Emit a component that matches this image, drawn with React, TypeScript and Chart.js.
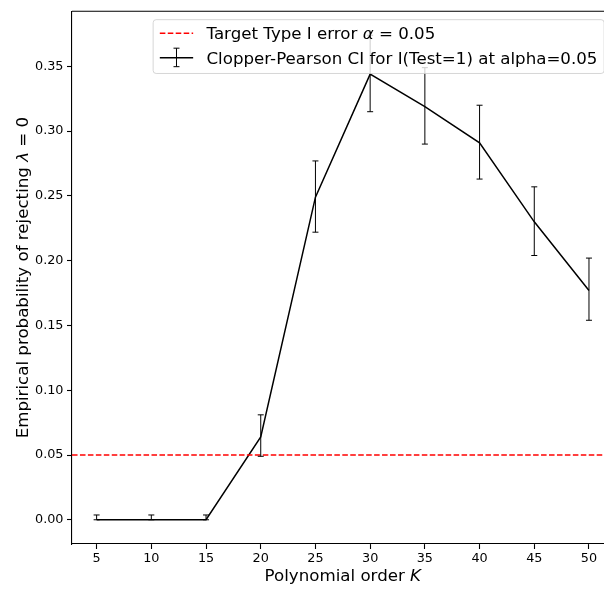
import React, { useEffect, useRef } from 'react';
import { Chart, registerables } from 'chart.js';

Chart.register(...registerables);

const K = [5, 10, 15, 20, 25, 30, 35, 40, 45, 50];
const rejectRate = [0, 0, 0, 0.064, 0.249, 0.344, 0.319, 0.291, 0.23, 0.177];
const ciLower = [0, 0, 0, 0.049, 0.222, 0.315, 0.29, 0.263, 0.204, 0.154];
const ciUpper = [0.0037, 0.0037, 0.0037, 0.081, 0.277, 0.374, 0.349, 0.32, 0.257, 0.202];
const targetAlpha = 0.05;

const xTicks = [5, 10, 15, 20, 25, 30, 35, 40, 45, 50];
const yTicks = [0, 0.05, 0.1, 0.15, 0.2, 0.25, 0.3, 0.35];
const xRange = [2.75, 52.25];
const yRange = [-0.0187, 0.3926];

const targetLabel = 'Target Type I error α = 0.05';
const ciLabel = 'Clopper-Pearson CI for I(Test=1) at alpha=0.05';
const xTitle = 'Polynomial order K';
const yTitle = 'Empirical probability of rejecting λ = 0';

const FAMILY = '"DejaVu Sans", "Liberation Sans", sans-serif';
const TICK_FS = 12.8;
const LABEL_FS = 16.67;

type Seg = { t: string; italic: boolean };

function segments(text: string, italicLast = false): Seg[] {
  const out: Seg[] = [];
  const chars = Array.from(text);
  chars.forEach((c, i) => {
    const italic = c === 'α' || c === 'λ' || (italicLast && i === chars.length - 1);
    const last = out[out.length - 1];
    if (last && last.italic === italic) last.t += c;
    else out.push({ t: c, italic });
  });
  return out;
}

function fontFor(italic: boolean, fs: number) {
  return `${italic ? 'italic ' : ''}${fs}px ${FAMILY}`;
}

function measureSegs(ctx: CanvasRenderingContext2D, segs: Seg[], fs: number) {
  let w = 0;
  for (const s of segs) {
    ctx.font = fontFor(s.italic, fs);
    w += ctx.measureText(s.t).width;
  }
  return w;
}

function drawSegs(ctx: CanvasRenderingContext2D, segs: Seg[], x: number, y: number, fs: number) {
  let cx = x;
  ctx.textAlign = 'left';
  ctx.textBaseline = 'alphabetic';
  for (const s of segs) {
    ctx.font = fontFor(s.italic, fs);
    ctx.fillText(s.t, cx, y);
    cx += ctx.measureText(s.t).width;
  }
}

const framePlugin = {
  id: 'mplFrame',
  afterDraw(chart: any) {
    const { ctx, chartArea } = chart;
    ctx.save();
    ctx.strokeStyle = '#000';
    ctx.lineWidth = 1.1;
    ctx.beginPath();
    ctx.moveTo(chartArea.left, chartArea.top);
    ctx.lineTo(chartArea.right, chartArea.top);
    ctx.lineTo(chartArea.right, chartArea.bottom);
    ctx.stroke();
    ctx.restore();
  },
};

const errorBarPlugin = {
  id: 'errorBars',
  afterDatasetsDraw(chart: any) {
    const { ctx, scales } = chart;
    const xs = scales.x;
    const ys = scales.y;
    ctx.save();
    ctx.strokeStyle = '#000';
    ctx.lineWidth = 1;
    const cap = 3;
    K.forEach((k, i) => {
      const x = xs.getPixelForValue(k);
      const yl = ys.getPixelForValue(ciLower[i]);
      const yu = ys.getPixelForValue(ciUpper[i]);
      ctx.beginPath();
      ctx.moveTo(x, yl);
      ctx.lineTo(x, yu);
      ctx.moveTo(x - cap, yl);
      ctx.lineTo(x + cap, yl);
      ctx.moveTo(x - cap, yu);
      ctx.lineTo(x + cap, yu);
      ctx.stroke();
    });
    ctx.restore();
  },
};

const titlePlugin = {
  id: 'axisTitles',
  afterDraw(chart: any) {
    const { ctx, chartArea } = chart;
    ctx.save();
    ctx.fillStyle = '#000';
    const xs = segments(xTitle, true);
    const xw = measureSegs(ctx, xs, LABEL_FS);
    const cx = (chartArea.left + chartArea.right) / 2;
    drawSegs(ctx, xs, cx - xw / 2, 581, LABEL_FS);
    const ysg = segments(yTitle);
    const yw = measureSegs(ctx, ysg, LABEL_FS);
    const cy = (chartArea.top + chartArea.bottom) / 2;
    ctx.translate(28, cy);
    ctx.rotate(-Math.PI / 2);
    drawSegs(ctx, ysg, -yw / 2, 0, LABEL_FS);
    ctx.restore();
  },
};

const legendPlugin = {
  id: 'mplLegend',
  afterDraw(chart: any) {
    const { ctx, chartArea } = chart;
    const ds = chart.data.datasets;
    const fs = LABEL_FS;
    const s1 = segments(ds[0].label);
    const s2 = segments(ds[1].label);
    ctx.save();
    const tw = Math.max(measureSegs(ctx, s1, fs), measureSegs(ctx, s2, fs));
    const pad = 0.4 * fs;
    const hl = 2 * fs;
    const hp = 0.8 * fs;
    const boxW = 2 * pad + hl + hp + tw;
    const boxRight = chartArea.right - 9.5;
    const boxLeft = boxRight - boxW;
    const boxTop = chartArea.top + 8.5;
    const boxH = 53.8;
    const r = 3;
    ctx.beginPath();
    ctx.moveTo(boxLeft + r, boxTop);
    ctx.lineTo(boxRight - r, boxTop);
    ctx.quadraticCurveTo(boxRight, boxTop, boxRight, boxTop + r);
    ctx.lineTo(boxRight, boxTop + boxH - r);
    ctx.quadraticCurveTo(boxRight, boxTop + boxH, boxRight - r, boxTop + boxH);
    ctx.lineTo(boxLeft + r, boxTop + boxH);
    ctx.quadraticCurveTo(boxLeft, boxTop + boxH, boxLeft, boxTop + boxH - r);
    ctx.lineTo(boxLeft, boxTop + r);
    ctx.quadraticCurveTo(boxLeft, boxTop, boxLeft + r, boxTop);
    ctx.closePath();
    ctx.fillStyle = 'rgba(255,255,255,0.8)';
    ctx.fill();
    ctx.strokeStyle = 'rgba(204,204,204,0.8)';
    ctx.lineWidth = 1;
    ctx.stroke();

    const hx0 = boxLeft + pad;
    const hx1 = hx0 + hl;
    const y1 = boxTop + 13.6;
    const y2 = boxTop + 38;
    ctx.strokeStyle = '#ff0000';
    ctx.lineWidth = 1.5;
    ctx.setLineDash([5.55, 2.4]);
    ctx.beginPath();
    ctx.moveTo(hx0, y1);
    ctx.lineTo(hx1, y1);
    ctx.stroke();
    ctx.setLineDash([]);
    ctx.strokeStyle = '#000';
    ctx.beginPath();
    ctx.moveTo(hx0, y2);
    ctx.lineTo(hx1, y2);
    ctx.stroke();
    const mx = (hx0 + hx1) / 2;
    ctx.lineWidth = 1;
    ctx.beginPath();
    ctx.moveTo(mx, y2 - 9.5);
    ctx.lineTo(mx, y2 + 9);
    ctx.moveTo(mx - 3, y2 - 9.5);
    ctx.lineTo(mx + 3, y2 - 9.5);
    ctx.moveTo(mx - 3, y2 + 9);
    ctx.lineTo(mx + 3, y2 + 9);
    ctx.stroke();

    ctx.fillStyle = '#000';
    const tx = hx1 + hp;
    drawSegs(ctx, s1, tx, boxTop + 19, fs);
    drawSegs(ctx, s2, tx, boxTop + 44.7, fs);
    ctx.restore();
  },
};

const W = 640;
const H = 590;
const PLOT_RIGHT = 613.6; // axes run past the cropped right edge of the figure

export default function App() {
  const ref = useRef<HTMLCanvasElement | null>(null);

  useEffect(() => {
    const prev = document.body.style.overflow;
    document.body.style.overflow = 'hidden';
    const canvas = ref.current;
    if (!canvas) return;
    const tickFont = { family: FAMILY, size: TICK_FS };
    const chart = new Chart(canvas, {
      type: 'line',
      data: {
        datasets: [
          {
            label: targetLabel,
            data: [
              { x: xRange[0], y: targetAlpha },
              { x: xRange[1], y: targetAlpha },
            ],
            borderColor: '#ff0000',
            borderWidth: 1.5,
            borderDash: [5.55, 2.4],
            pointRadius: 0,
            fill: false,
          },
          {
            label: ciLabel,
            data: K.map((k, i) => ({ x: k, y: rejectRate[i] })),
            borderColor: '#000000',
            borderWidth: 1.5,
            pointRadius: 0,
            fill: false,
            tension: 0,
          },
        ],
      },
      options: {
        animation: false,
        responsive: false,
        devicePixelRatio: 1,
        events: [],
        layout: { padding: { left: 0, top: 7, right: W - PLOT_RIGHT, bottom: 0 } },
        plugins: {
          legend: { display: false },
          tooltip: { enabled: false },
          title: { display: false },
        },
        scales: {
          x: {
            type: 'linear',
            min: xRange[0],
            max: xRange[1],
            afterBuildTicks: (s: any) => {
              s.ticks = xTicks.map((v) => ({ value: v }));
            },
            afterFit: (s: any) => {
              s.height = 46;
            },
            grid: {
              display: true,
              drawOnChartArea: false,
              drawTicks: true,
              tickLength: 5,
              tickColor: '#000',
              tickWidth: 1.1,
            },
            border: { display: true, color: '#000', width: 1.1 },
            ticks: {
              color: '#000',
              font: tickFont,
              padding: 1.5,
              maxRotation: 0,
              autoSkip: false,
              callback: (v: any) => String(v),
            },
          },
          y: {
            type: 'linear',
            min: yRange[0],
            max: yRange[1],
            afterBuildTicks: (s: any) => {
              s.ticks = yTicks.map((v) => ({ value: v }));
            },
            afterFit: (s: any) => {
              s.width = 72;
            },
            grid: {
              display: true,
              drawOnChartArea: false,
              drawTicks: true,
              tickLength: 5,
              tickColor: '#000',
              tickWidth: 1.1,
            },
            border: { display: true, color: '#000', width: 1.1 },
            ticks: {
              color: '#000',
              font: tickFont,
              padding: 3.5,
              autoSkip: false,
              callback: (v: any) => Number(v).toFixed(2),
            },
          },
        },
      },
      plugins: [framePlugin, errorBarPlugin, titlePlugin, legendPlugin],
    });
    return () => {
      chart.destroy();
      document.body.style.overflow = prev;
    };
  }, []);

  return (
    <div
      style={{
        position: 'absolute',
        left: 0,
        top: 0,
        width: 604,
        height: H,
        overflow: 'hidden',
        background: '#fff',
      }}
    >
      <canvas ref={ref} width={W} height={H} style={{ width: W, height: H, display: 'block' }} />
    </div>
  );
}
